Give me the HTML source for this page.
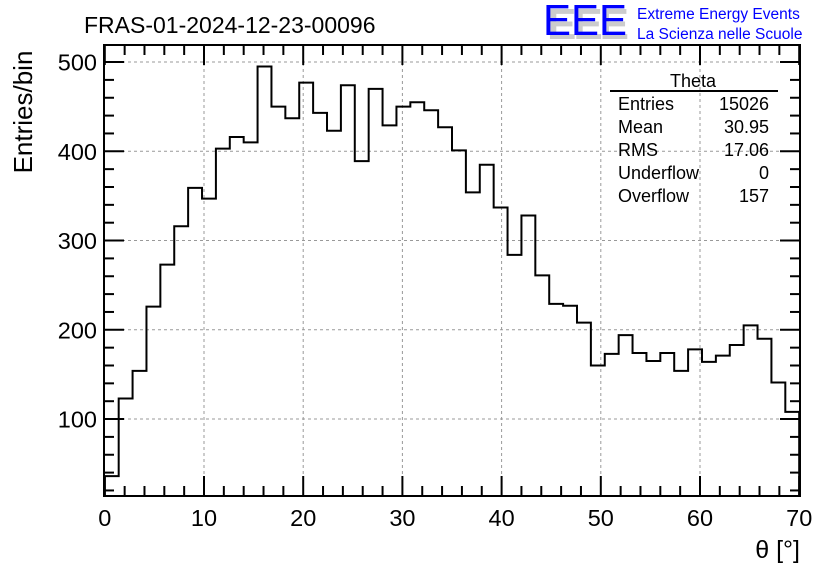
<!DOCTYPE html>
<html><head><meta charset="utf-8"><style>
html,body{margin:0;padding:0;background:#fff;}
svg{display:block;font-family:"Liberation Sans",sans-serif;}
</style></head><body>
<svg id="c" width="836" height="572" viewBox="0 0 836 572">
<text x="84" y="33" font-size="23">FRAS-01-2024-12-23-00096</text>
<g>
<text x="547" y="39" font-size="44" fill="#ccc" font-weight="bold" textLength="82">EEE</text>
<text x="543" y="35" font-size="44" fill="#0000ff" textLength="84" lengthAdjust="spacingAndGlyphs">EEE</text>
<text x="637" y="19" font-size="15.5" fill="#0000ff">Extreme Energy Events</text>
<text x="637" y="39" font-size="15.5" fill="#0000ff">La Scienza nelle Scuole</text>
</g>
<g id="grid"></g>
<g id="axes"></g>
<path id="hist" fill="none" stroke="#000" stroke-width="2"/>
<rect x="104" y="45" width="696" height="451" fill="none" stroke="#000" stroke-width="2"/>
<text x="0" y="0" font-size="26" text-anchor="middle" transform="translate(32 112) rotate(-90)">Entries/bin</text>
<text x="800" y="558" font-size="25" text-anchor="end">θ [°]</text>
<g font-size="18">
<text x="693" y="87" text-anchor="middle">Theta</text>
<line x1="610" y1="91" x2="778" y2="91" stroke="#000" stroke-width="2"/>
<text x="618" y="110">Entries</text><text x="769" y="110" text-anchor="end">15026</text>
<text x="618" y="133">Mean</text><text x="769" y="133" text-anchor="end">30.95</text>
<text x="618" y="156">RMS</text><text x="769" y="156" text-anchor="end">17.06</text>
<text x="618" y="179">Underflow</text><text x="769" y="179" text-anchor="end">0</text>
<text x="618" y="202">Overflow</text><text x="769" y="202" text-anchor="end">157</text>
</g>
</svg>
<script>
const binLow = 0, binWidth = 1.4;
const counts = [36,123,154,226,273,316,359,347,403,416,410,495,450,437,477,443,423,474,389,470,429,450,455,446,427,401,354,385,337,284,328,261,229,227,208,160,173,194,174,165,174,154,178,164,171,183,205,190,141,108];
const xTicks = [0,10,20,30,40,50,60,70];
const yTicks = [100,200,300,400,500];
const X0=104.8, XS=9.92, Y0=508.3, YS=0.8925, YMIN=14.6, YMAX=518;
const xp = v => X0 + v*XS;
const yp = v => Y0 - v*YS;
const NS='http://www.w3.org/2000/svg';
const grid=document.getElementById('grid'), axes=document.getElementById('axes');
function mk(tag, attrs, parent){const e=document.createElementNS(NS,tag);for(const k in attrs)e.setAttribute(k,attrs[k]);parent.appendChild(e);return e;}
xTicks.forEach(t=>{
  if(t>0&&t<70){const l=mk('line',{x1:xp(t),x2:xp(t),y1:45,y2:496,stroke:'#999','stroke-dasharray':'3,3'},grid);
  
  }
  const tx=mk('text',{x:xp(t),y:526,'font-size':23.5,'text-anchor':'middle'},axes);tx.textContent=t;
  
  
});
yTicks.forEach(t=>{
  const l=mk('line',{x1:104,x2:800,y1:yp(t),y2:yp(t),stroke:'#999','stroke-dasharray':'3,3'},grid);
  
  
  const tx=mk('text',{x:97,y:yp(t)+8.5,'font-size':23.5,'text-anchor':'end'},axes);tx.textContent=t;
  
  
});
for(let v=0;v<=70;v+=2){const L=(v%10===0)?20:10;
  mk('line',{x1:xp(v),x2:xp(v),y1:496,y2:496-L,stroke:'#000','stroke-width':2},axes);
  mk('line',{x1:xp(v),x2:xp(v),y1:45,y2:45+L,stroke:'#000','stroke-width':2},axes);}
for(let v=20;v<=518;v+=20){const L=(v%100===0)?20:10;
  mk('line',{x1:104,x2:104+L,y1:yp(v),y2:yp(v),stroke:'#000','stroke-width':2},axes);
  mk('line',{x1:800,x2:800-L,y1:yp(v),y2:yp(v),stroke:'#000','stroke-width':2},axes);}
let d='M'+xp(binLow)+' '+yp(YMIN);
counts.forEach((c,i)=>{const a=xp(binLow+i*binWidth),b=xp(binLow+(i+1)*binWidth);d+=' L'+a+' '+yp(c)+' L'+b+' '+yp(c);});
d+=' L'+xp(binLow+counts.length*binWidth)+' '+yp(YMIN);
document.getElementById('hist').setAttribute('d',d);
</script>
</body></html>
